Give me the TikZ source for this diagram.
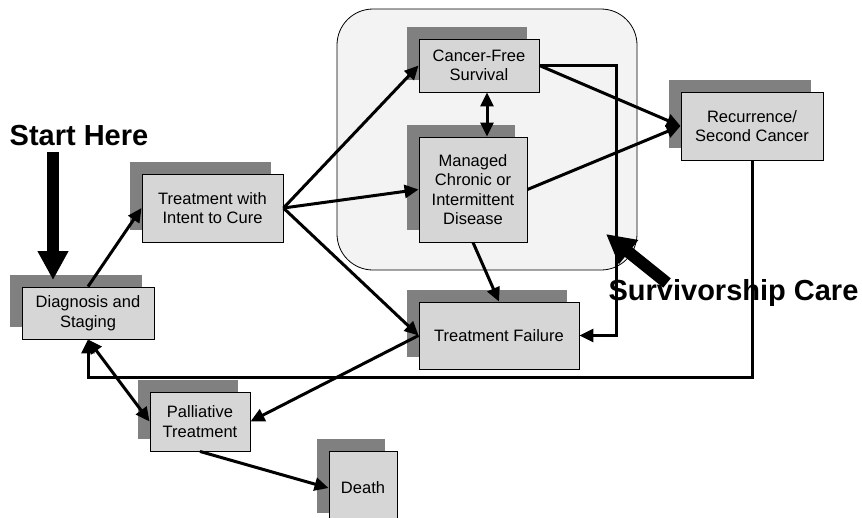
\documentclass[tikz,border=0pt]{standalone}
\usepackage{fontspec}
\setmainfont{Liberation Sans}
\usetikzlibrary{arrows.meta,shadows}
\definecolor{boxfill}{HTML}{D6D6D6}
\definecolor{shadowgray}{HTML}{808080}
\definecolor{bgfill}{HTML}{F3F3F3}
\tikzset{
  box/.style={draw=black, line width=0.9pt, fill=boxfill, inner sep=0pt, align=center,
    font=\fontsize{16.5}{19.5}\selectfont,
    general shadow={fill=shadowgray, draw=none, shadow xshift=-12pt, shadow yshift=12.5pt}},
  conn/.style={line width=3pt, -{Triangle[length=14pt,width=13pt]}},
  biconn/.style={line width=3pt, {Triangle[length=14pt,width=13pt]}-{Triangle[length=14pt,width=13pt]}},
  bigarrow/.style={line width=12pt, -{Triangle[length=29pt,width=29pt]}},
  bigtext/.style={font=\fontsize{29}{34}\selectfont\bfseries, inner sep=0pt, anchor=base},
  region/.style={draw=black, line width=0.8pt, fill=bgfill, rounded corners=36pt}
}
\begin{document}
\begin{tikzpicture}[x=1pt,y=-1pt]
\useasboundingbox (0,0) rectangle (862,517);
% survivorship region
\node[region, minimum width=300pt, minimum height=261pt] (region) at (487,139.5) {};
% boxes
\node[box, minimum width=132pt, minimum height=52pt] (diag) at (88,313) {Diagnosis and\\Staging};
\node[box, minimum width=141pt, minimum height=68pt] (intent) at (212.5,208) {Treatment with\\Intent to Cure};
\node[box, minimum width=120pt, minimum height=53pt] (cfs) at (479,65.5) {Cancer-Free\\Survival};
\node[box, minimum width=108pt, minimum height=105pt] (mcd) at (473,189.5) {Managed\\Chronic or\\Intermittent\\Disease};
\node[box, minimum width=160pt, minimum height=67pt] (tf) at (499,335.5) {Treatment Failure};
\node[box, minimum width=142pt, minimum height=68pt] (rec) at (752,126) {Recurrence/\\Second Cancer};
\node[box, minimum width=100pt, minimum height=59pt] (pall) at (200,421.5) {Palliative\\Treatment};
\node[box, minimum width=68pt, minimum height=74pt] (death) at (363,488) {Death};
% labels
\node[bigtext] (start) at (79,145) {Start Here};
\node[bigtext] (surv) at (733.5,300) {Survivorship Care};
% helper coordinates
\coordinate (s1) at (53,152);
\coordinate (s2) at (53,280);
\coordinate (v1) at (667,283);
\coordinate (v2) at (606,234);
\coordinate (vx) at (487,0);
\coordinate (c1) at (616,65.5);
\coordinate (c2) at (616,335.5);
\coordinate (r1) at (752,377);
\coordinate (r2) at (88,377);
% connectors
\draw[conn] (diag.north) -- (intent.west);
\draw[conn] (intent.east) -- (cfs.west);
\draw[conn] (intent.east) -- (mcd.west);
\draw[conn] (intent.east) -- (tf.west);
\draw[biconn] (cfs.south -| vx) -- (mcd.north -| vx);
\draw[conn] (cfs.east) -- (rec.west);
\draw[conn] (mcd.east) -- (rec.west);
\draw[conn] (cfs.east) -- (c1) -- (c2) -- (tf.east);
\draw[conn] (mcd.south) -- (tf.north);
\draw[conn] (tf.west) -- (pall.east);
\draw[biconn] (diag.south) -- (pall.west);
\draw[conn] (rec.south) -- (r1) -- (r2) -- (diag.south);
\draw[conn] (pall.south) -- (death.west);
% big arrows
\draw[bigarrow] (s1) -- (s2);
\draw[bigarrow] (v1) -- (v2);
\end{tikzpicture}
\end{document}
